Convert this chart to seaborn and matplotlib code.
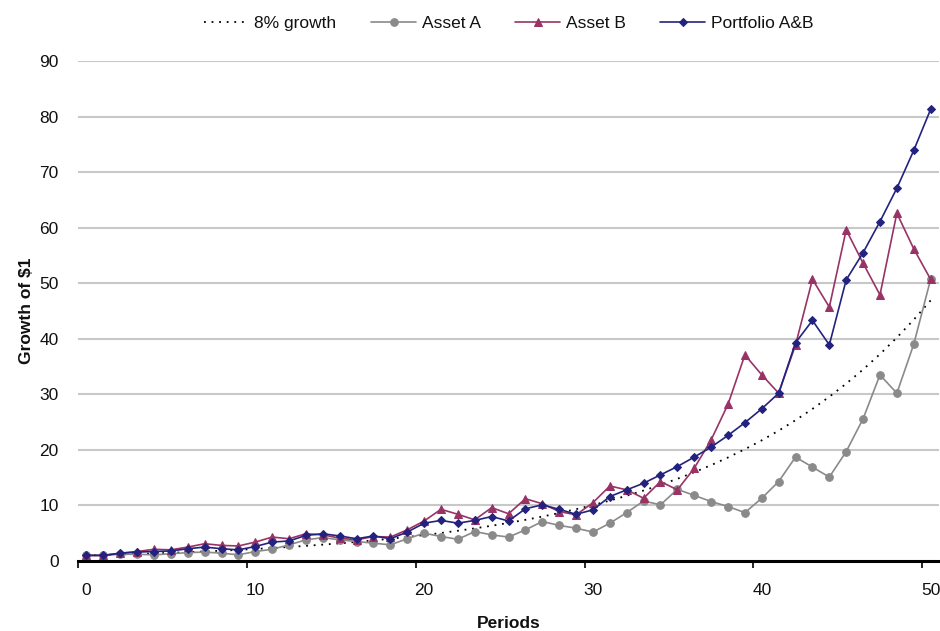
import numpy as np
import pandas as pd
import matplotlib
matplotlib.use("Agg")
import matplotlib.pyplot as plt
import seaborn as sns

periods = list(range(51))

growth_8 = [1.00, 1.08, 1.17, 1.26, 1.36, 1.47, 1.59, 1.71, 1.85, 2.00,
            2.16, 2.33, 2.52, 2.72, 2.94, 3.17, 3.43, 3.70, 4.00, 4.32,
            4.66, 5.03, 5.44, 5.87, 6.34, 6.85, 7.40, 7.99, 8.63, 9.32,
            10.06, 10.87, 11.74, 12.68, 13.69, 14.79, 15.97, 17.25, 18.63, 20.12,
            21.72, 23.46, 25.34, 27.37, 29.56, 31.92, 34.47, 37.23, 40.21, 43.43,
            46.90]

asset_a = [1.0, 1.0, 1.2, 1.2, 1.1, 1.3, 1.5, 1.6, 1.4, 1.1,
           1.7, 2.1, 2.9, 3.8, 4.2, 3.8, 3.5, 3.2, 2.9, 4.0,
           5.0, 4.4, 3.9, 5.3, 4.7, 4.3, 5.6, 7.1, 6.4, 5.9,
           5.2, 6.8, 8.7, 10.8, 10.1, 12.9, 11.8, 10.7, 9.8, 8.7,
           11.3, 14.3, 18.7, 16.9, 15.1, 19.7, 25.6, 33.5, 30.2, 39.0,
           50.7]

asset_b = [1.0, 1.0, 1.4, 1.7, 2.1, 2.0, 2.5, 3.1, 2.8, 2.7,
           3.4, 4.3, 4.0, 4.9, 4.7, 4.1, 3.8, 4.4, 4.3, 5.6,
           7.2, 9.3, 8.4, 7.4, 9.6, 8.5, 11.2, 10.3, 8.9, 8.3,
           10.5, 13.5, 12.8, 11.3, 14.3, 12.8, 16.7, 21.8, 28.2, 37.1,
           33.5, 30.2, 38.9, 50.7, 45.7, 59.6, 53.6, 47.9, 62.6, 56.2,
           50.7]

portfolio = [1.0, 1.0, 1.4, 1.6, 1.7, 1.8, 2.2, 2.5, 2.2, 2.0,
             2.6, 3.4, 3.6, 4.6, 4.9, 4.5, 4.0, 4.5, 4.0, 5.2,
             6.8, 7.3, 6.8, 7.3, 8.0, 7.2, 9.4, 10.1, 9.3, 8.4,
             9.2, 11.6, 12.8, 14.0, 15.5, 17.0, 18.7, 20.5, 22.6, 24.9,
             27.4, 30.2, 39.3, 43.3, 38.9, 50.6, 55.5, 61.1, 67.1, 73.9,
             81.3]

x_tick_labels = ["0", "10", "20", "30", "40", "50"]
y_ticks = [0, 10, 20, 30, 40, 50, 60, 70, 80, 90]

sns.set_theme(style="white")
plt.rcParams['font.family'] = ['Liberation Sans', 'DejaVu Sans']

fig = plt.figure(figsize=(9.4, 6.31), dpi=100)
ax = fig.add_axes([0.083, 0.111, 0.916, 0.7923])

sns.lineplot(x=periods, y=growth_8, ax=ax, color="black", linestyle=(0, (1, 3.2)),
             linewidth=1.3, label="8% growth", zorder=3)
sns.lineplot(x=periods, y=asset_a, ax=ax, color="#8a8a8a", marker="o", markersize=5.5,
             markeredgecolor="#8a8a8a", linewidth=1.2, label="Asset A", zorder=4)
sns.lineplot(x=periods, y=asset_b, ax=ax, color="#993366", marker="^", markersize=6,
             markeredgecolor="#993366", linewidth=1.2, label="Asset B", zorder=5)
sns.lineplot(x=periods, y=portfolio, ax=ax, color="#23237f", marker="D", markersize=4.5,
             markeredgecolor="#23237f", linewidth=1.2, label="Portfolio A&B", zorder=6)

ax.set_xlim(-0.5, 50.5)
ax.set_ylim(0, 90)
ax.set_yticks(y_ticks)
ax.set_yticklabels([str(v) for v in y_ticks])
ax.set_xticks([0, 10, 20, 30, 40, 50])
ax.set_xticklabels(x_tick_labels)
ax.set_xticks([-0.5, 9.5, 19.5, 29.5, 39.5, 49.5], minor=True)
ax.tick_params(axis="x", which="major", length=0, pad=16, labelsize=12.5, colors="#111111")
ax.tick_params(axis="x", which="minor", length=5, width=1.2, color="black", direction="out", bottom=True)
ax.tick_params(axis="y", which="major", length=0, pad=14, labelsize=12.5, colors="#111111")

ax.grid(axis="y", color="#c8c8c8", linewidth=1.5)
ax.grid(axis="x", visible=False)
for s in ["top", "right", "left"]:
    ax.spines[s].set_visible(False)
ax.spines["bottom"].set_color("black")
ax.spines["bottom"].set_linewidth(2.2)
ax.spines["bottom"].set_zorder(7)

ax.set_xlabel("Periods", fontsize=12.5, fontweight="bold", labelpad=13, color="#111111")
ax.set_ylabel("Growth of $1", fontsize=12.5, fontweight="bold", labelpad=4, color="#111111")

leg = ax.legend(loc="center", bbox_to_anchor=(0.5, 1.075), ncol=4, frameon=False,
                fontsize=12.5, handlelength=2.6, columnspacing=2.0, handletextpad=0.3)
for t in leg.get_texts():
    t.set_color("#111111")

fig.savefig("out.png", dpi=100)
